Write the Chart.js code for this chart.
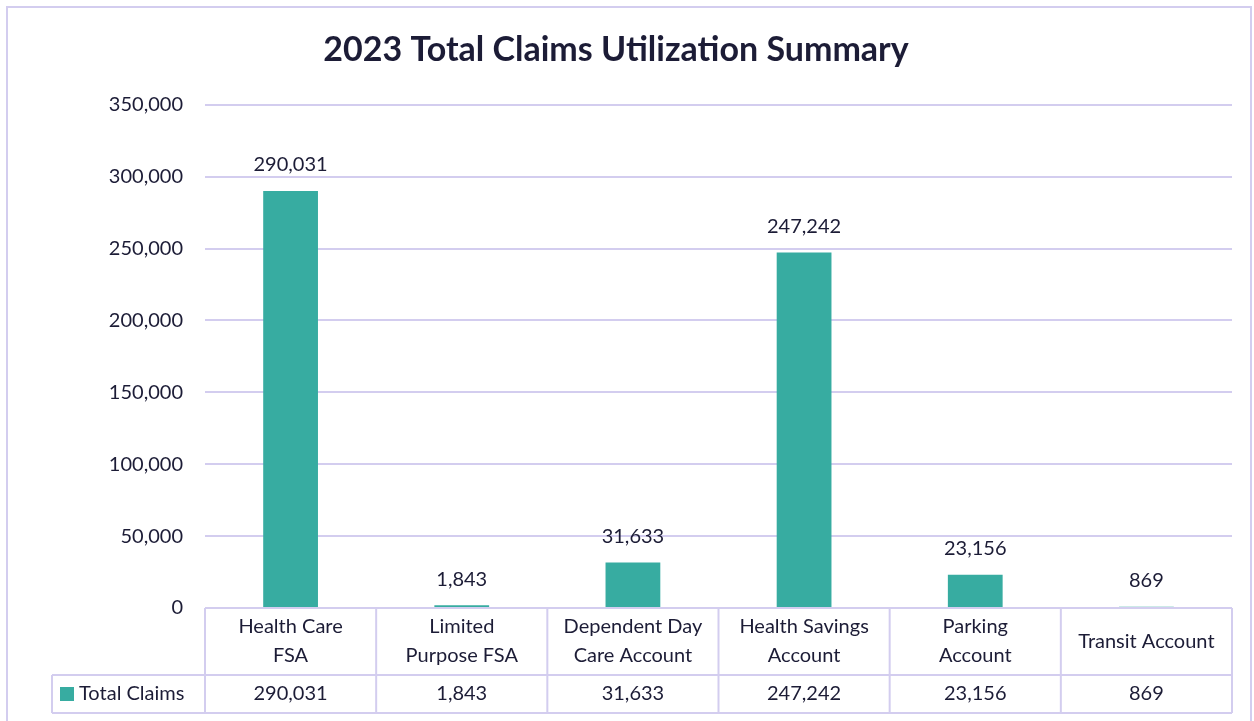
<!DOCTYPE html>
<html>
<head>
<meta charset="utf-8">
<script src="https://cdn.jsdelivr.net/npm/chart.js@4"></script>
<style>
  html, body { margin: 0; padding: 0; background: #fff; }
  #wrap { width: 1254px; height: 721px; position: relative; }
</style>
</head>
<body>
<div id="wrap"><canvas id="claimsChart"></canvas></div>
<script>
// chart data
const categories = [
  ['Health Care', 'FSA'],
  ['Limited', 'Purpose FSA'],
  ['Dependent Day', 'Care Account'],
  ['Health Savings', 'Account'],
  ['Parking', 'Account'],
  ['Transit Account']
]
const totalClaims = [290031, 1843, 31633, 247242, 23156, 869]
const seriesName = 'Total Claims'
const titleText = '2023 Total Claims Utilization Summary'

const BAR_COLOR = '#37aca1'
const LINE_COLOR = '#d3cdef'
const TEXT_COLOR = '#1c1c36'
const FONT = 'Lato, "Open Sans", sans-serif'

const fmt = (v) => v.toLocaleString('en-US')

// Draws value labels above bars, the data table under the plot and the frame
const tablePlugin = {
  id: 'dataTable',
  afterDatasetsDraw (chart) {
    const { ctx, scales: { x, y } } = chart
    const meta = chart.getDatasetMeta(0)
    ctx.save()
    ctx.fillStyle = TEXT_COLOR
    ctx.font = `20px ${FONT}`
    ctx.textAlign = 'center'
    ctx.textBaseline = 'middle'
    meta.data.forEach((bar, i) => {
      ctx.fillText(fmt(totalClaims[i]), bar.x, bar.y - 26)
    })

    // table geometry
    const top = y.bottom
    const row1 = top + 67
    const row2 = row1 + 38
    const legendLeft = 52

    ctx.strokeStyle = LINE_COLOR
    ctx.lineWidth = 2
    ctx.beginPath()
    // horizontal lines
    ctx.moveTo(x.left, top); ctx.lineTo(x.right, top)
    ctx.moveTo(legendLeft, row1); ctx.lineTo(x.right, row1)
    ctx.moveTo(legendLeft, row2); ctx.lineTo(x.right, row2)
    // vertical lines
    ctx.moveTo(legendLeft, row1); ctx.lineTo(legendLeft, row2)
    const step = (x.right - x.left) / categories.length
    for (let i = 0; i <= categories.length; i++) {
      const cx = x.left + step * i
      ctx.moveTo(cx, top); ctx.lineTo(cx, row2)
    }
    ctx.stroke()

    // header labels and values
    ctx.fillStyle = TEXT_COLOR
    categories.forEach((lines, i) => {
      const cx = x.getPixelForValue(i)
      const mid = (top + row1) / 2
      const lh = 29
      lines.forEach((t, j) => {
        ctx.fillText(t, cx, mid + (j - (lines.length - 1) / 2) * lh)
      })
      ctx.fillText(fmt(totalClaims[i]), cx, (row1 + row2) / 2)
    })

    // legend key
    ctx.fillStyle = BAR_COLOR
    ctx.fillRect(60, (row1 + row2) / 2 - 7, 14, 14)
    ctx.fillStyle = TEXT_COLOR
    ctx.textAlign = 'left'
    ctx.fillText(seriesName, 79, (row1 + row2) / 2)

    // outer frame
    ctx.strokeStyle = LINE_COLOR
    ctx.lineWidth = 2
    ctx.strokeRect(7, 7, 1244, 730)
    ctx.restore()
  }
}

new Chart(document.getElementById('claimsChart'), {
  type: 'bar',
  data: {
    labels: categories,
    datasets: [{
      label: seriesName,
      data: totalClaims,
      backgroundColor: BAR_COLOR,
      barPercentage: 0.64,
      categoryPercentage: 0.5
    }]
  },
  options: {
    responsive: true,
    maintainAspectRatio: false,
    animation: false,
    layout: { padding: { left: 0, right: 22, top: 14, bottom: 113 } },
    plugins: {
      legend: { display: false },
      tooltip: { enabled: false },
      title: {
        display: true,
        text: titleText,
        color: TEXT_COLOR,
        font: { family: FONT, size: 34, weight: 'bold' },
        padding: { top: 16, bottom: 34 }
      }
    },
    scales: {
      x: {
        grid: { display: false, drawTicks: false },
        border: { display: false },
        ticks: { display: false }
      },
      y: {
        min: 0,
        max: 350000,
        afterFit: (scale) => { scale.width = 205 },
        ticks: {
          stepSize: 50000,
          color: TEXT_COLOR,
          font: { family: FONT, size: 20 },
          padding: 22,
          callback: (v) => fmt(v)
        },
        grid: { color: LINE_COLOR, lineWidth: 2, drawTicks: false },
        border: { display: false }
      }
    }
  },
  plugins: [tablePlugin]
})
</script>
</body>
</html>
